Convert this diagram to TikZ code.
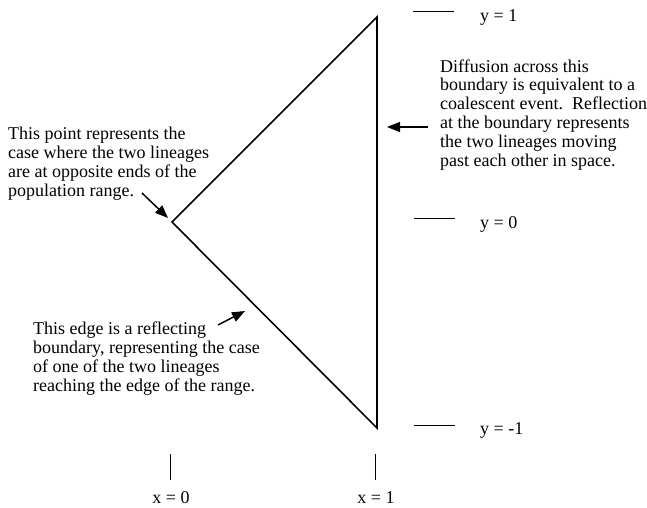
\documentclass[tikz,border=0pt]{standalone}
\usepackage{fontspec}
\setmainfont{Liberation Serif}
\usetikzlibrary{arrows.meta}
\begin{document}
\begin{tikzpicture}[x=1pt,y=-1pt,
  edge/.style={line width=1.6pt},
  tick/.style={line width=1pt},
  pointer/.style={line width=1.5pt,-{Triangle[length=13pt,width=10pt]}},
  note/.style={font=\fontsize{18}{18.8}\selectfont,align=left,inner sep=0pt,anchor=base west},
  lab/.style={font=\fontsize{18}{20}\selectfont,inner sep=0pt}]
\useasboundingbox (0,0) rectangle (647,507);
\fill[white] (0,0) rectangle (647,507);
% triangle
\coordinate (T) at (377,17);
\coordinate (L) at (172,222);
\coordinate (B) at (377,428);
\draw[edge] (T) -- (L) -- (B) -- cycle;
% y ticks
\coordinate (y1a) at (413,11); \coordinate (y1b) at (454,11);
\coordinate (y0a) at (414,218); \coordinate (y0b) at (455,218);
\coordinate (ym1a) at (414,425); \coordinate (ym1b) at (455,425);
\draw[tick] (y1a) -- (y1b);
\draw[tick] (y0a) -- (y0b);
\draw[tick] (ym1a) -- (ym1b);
\node[lab,anchor=base west] (ly1) at (480,21) {y = 1};
\node[lab,anchor=base west] (ly0) at (480,228) {y = 0};
\node[lab,anchor=base west] (lym1) at (480,434) {y = -1};
% x ticks
\coordinate (x0a) at (170,454); \coordinate (x0b) at (170,480);
\coordinate (x1a) at (375,454); \coordinate (x1b) at (375,480);
\draw[tick] (x0a) -- (x0b);
\draw[tick] (x1a) -- (x1b);
\node[lab,anchor=base] (lx0) at (171,503) {x = 0};
\node[lab,anchor=base] (lx1) at (376,503) {x = 1};
% notes (anchored at the baseline of their last line)
\node[note] (n1) at (8,196) {This point represents the\\case where the two lineages\\are at opposite ends of the\\population range.};
\node[note] (n2) at (440,166) {Diffusion across this\\boundary is equivalent to a\\coalescent event.\ \ Reflection\\at the boundary represents\\the two lineages moving\\past each other in space.};
\node[note] (n3) at (33,391) {This edge is a reflecting\\boundary, representing the case\\of one of the two lineages\\reaching the edge of the range.};
% pointers
\coordinate (p1s) at (142,193); \coordinate (p1e) at (168,218);
\coordinate (p2s) at (428,127); \coordinate (p2e) at (387,127);
\coordinate (p3s) at (218,325); \coordinate (p3e) at (245,311);
\draw[pointer] (p1s) -- (p1e);
\draw[pointer] (p2s) -- (p2e);
\draw[pointer] (p3s) -- (p3e);
\end{tikzpicture}
\end{document}
